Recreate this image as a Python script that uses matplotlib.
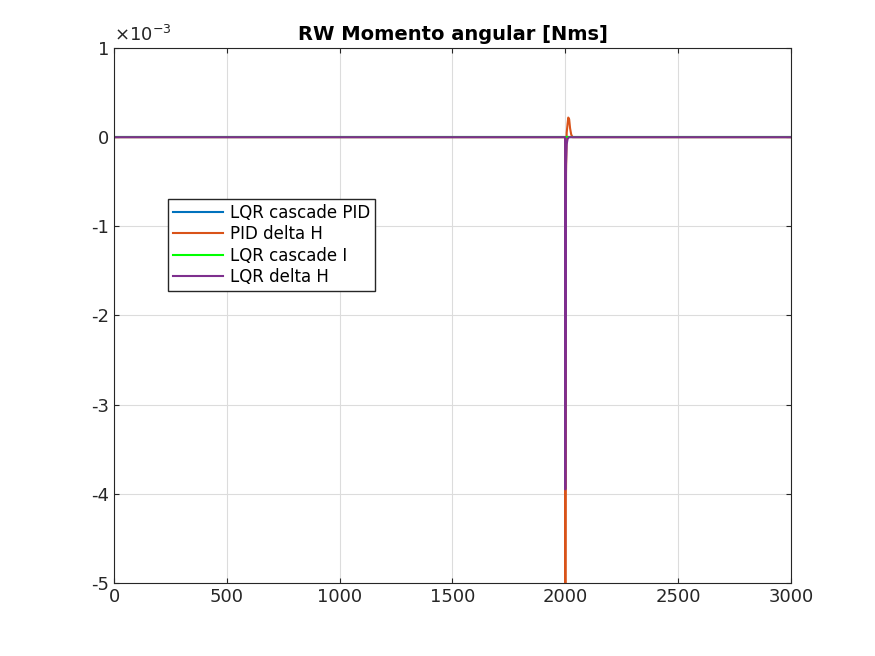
import matplotlib
matplotlib.use("Agg")
import matplotlib.pyplot as plt

t_pid = [0, 1999, 2000, 2003, 2006, 2010, 2013, 2017, 2021, 2026, 2032, 2040, 3000]
h_pid = [0, 0, -5.3e-3, -0.4e-3, 0.05e-3, 0.15e-3, 0.22e-3, 0.2e-3, 0.1e-3, 0.03e-3, 0.0, 0.0, 0]
t_lqr = [0, 1999, 2000, 2003, 2006, 2010, 2016, 2025, 3000]
h_lqr = [0, 0, -3.95e-3, -0.3e-3, -0.08e-3, -0.02e-3, 0.0, 0.0, 0]
t_casc = [0, 3000]
h_casc = [0, 0]

fig = plt.figure(figsize=(8.75, 6.56), dpi=100)
ax = fig.add_axes([114/875, 1-583/656, (791-114)/875, (583-48)/656])
ax.plot(t_casc, h_casc, color='#0072BD', lw=1.5, label='LQR cascade PID')
ax.plot(t_pid, h_pid, color='#D95319', lw=1.5, label='PID delta H')
ax.plot(t_casc, h_casc, color='#00FF00', lw=1.5, label='LQR cascade I')
ax.plot(t_lqr, h_lqr, color='#7E2F8E', lw=1.5, label='LQR delta H')
ax.set_xlim(0, 3000)
ax.set_ylim(-5e-3, 1e-3)
ax.set_yticks([-5e-3, -4e-3, -3e-3, -2e-3, -1e-3, 0, 1e-3])
ax.set_yticklabels(['-5', '-4', '-3', '-2', '-1', '0', '1'])
ax.text(0, 1.005, r'$\times10^{-3}$', transform=ax.transAxes, fontsize=13, va='bottom', color='#262626')
ax.grid(True, color='#dcdcdc', lw=0.8)
ax.tick_params(labelsize=13, direction='in', top=True, right=True, colors='#262626')
for s in ax.spines.values():
    s.set_color('#262626')
ax.set_title('RW Momento angular [Nms]', fontsize=14, fontweight='bold')
ax.legend(loc='upper left', bbox_to_anchor=(0.08, 0.718), borderaxespad=0, fontsize=12, fancybox=False,
          edgecolor='#262626', framealpha=1, borderpad=0.3, labelspacing=0.2, handlelength=3.0,
          handletextpad=0.4)
fig.savefig('out.png', dpi=100)
